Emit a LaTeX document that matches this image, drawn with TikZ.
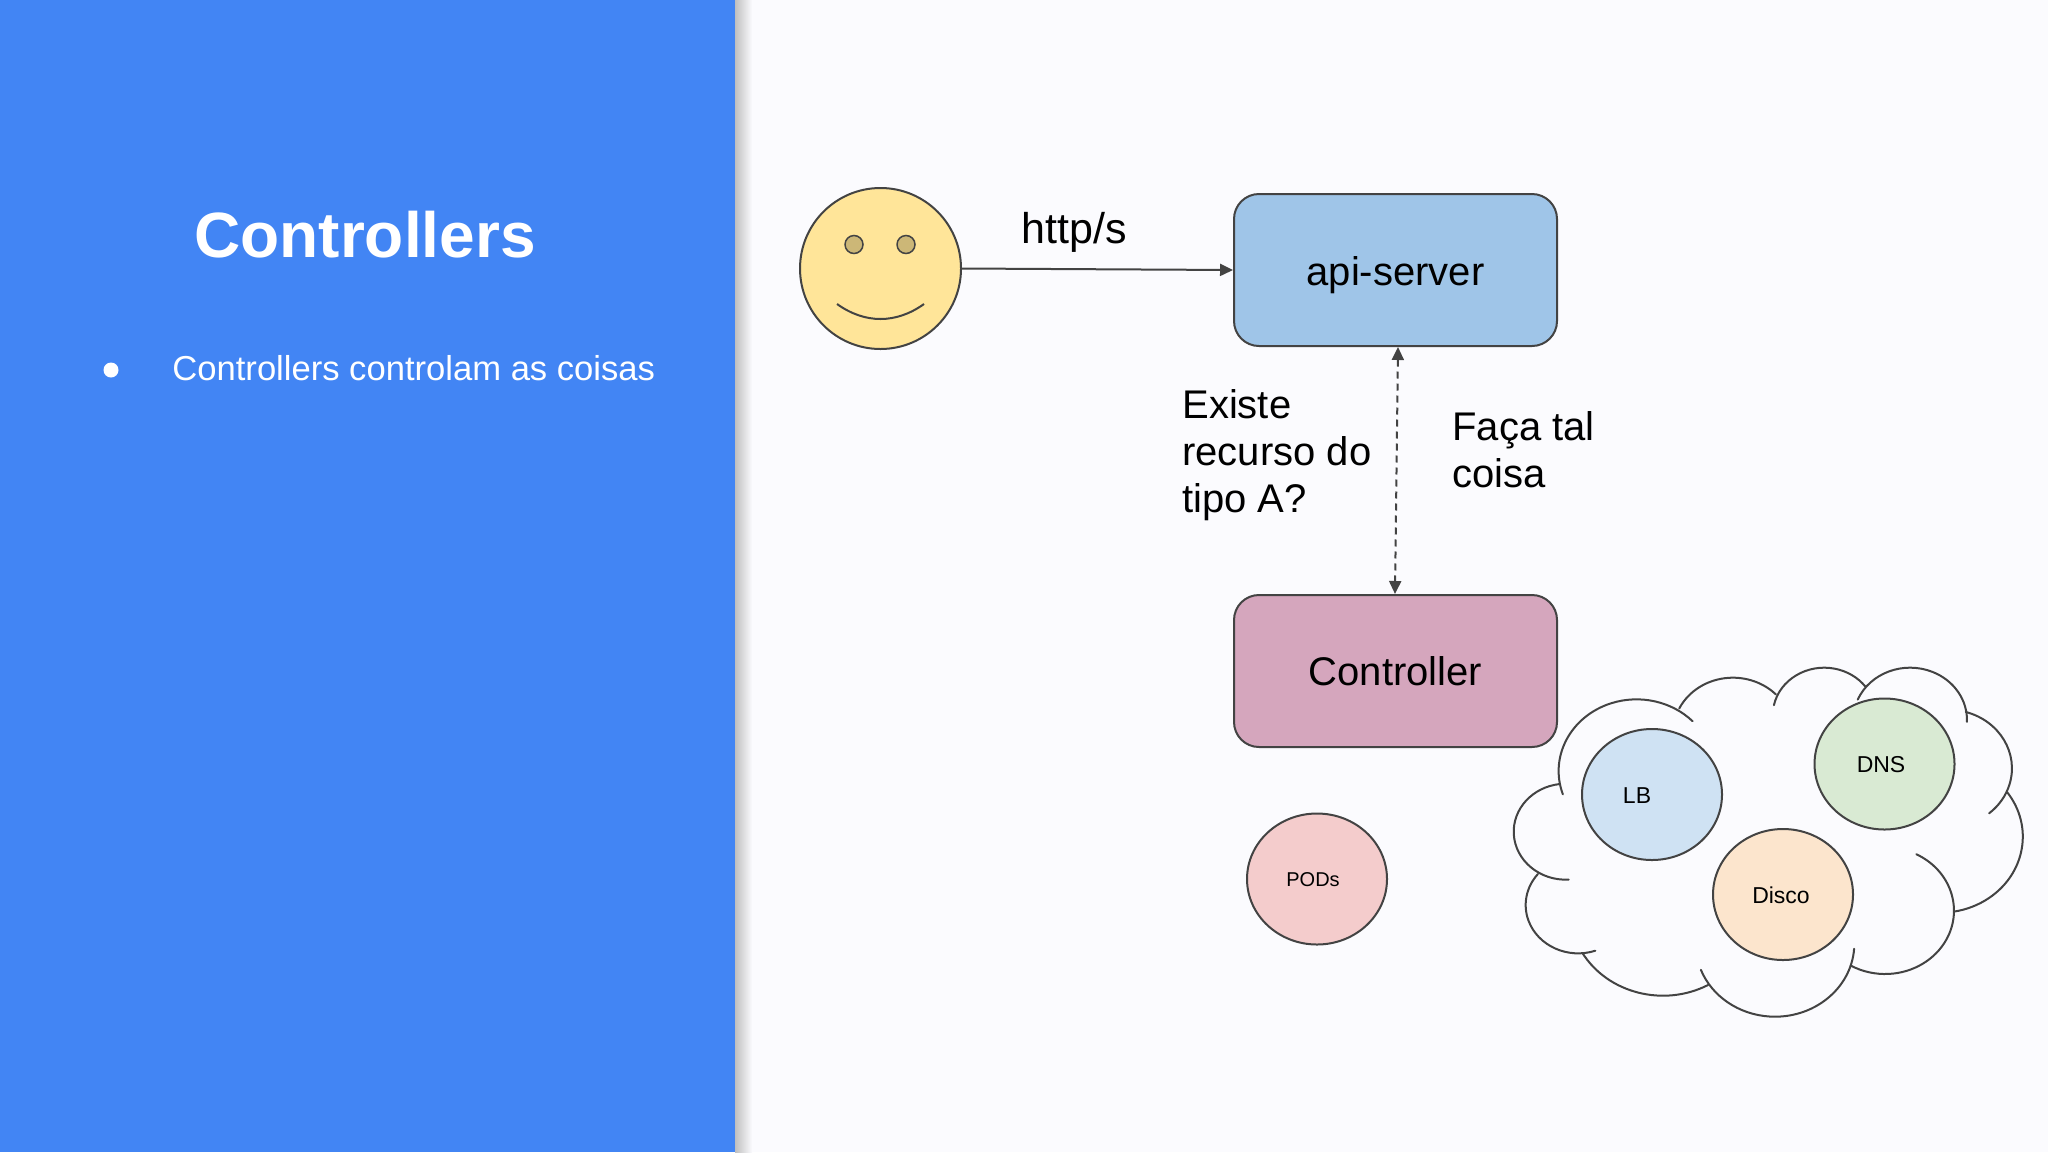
\documentclass[tikz,border=0pt]{standalone}
\usepackage{xcolor}
\usepackage{fontspec}
\setmainfont{Liberation Sans}
\usepackage{tikz}
\usetikzlibrary{arrows.meta}
\usetikzlibrary{shapes.geometric}

\definecolor{slidebg}{HTML}{FBFBFE}
\definecolor{panelblue}{HTML}{4285F4}
\definecolor{linegray}{HTML}{434343}
\definecolor{faceyellow}{HTML}{FFE599}
\definecolor{eyeyellow}{HTML}{CCB777}
\definecolor{apiblue}{HTML}{9FC5E8}
\definecolor{ctrlpink}{HTML}{D5A6BD}
\definecolor{podred}{HTML}{F4CCCC}
\definecolor{lbblue}{HTML}{CFE2F3}
\definecolor{dnsgreen}{HTML}{D9EAD3}
\definecolor{discoorange}{HTML}{FCE5CD}

\tikzset{
  box/.style={draw=linegray, line width=1pt, rounded corners=12.5pt, minimum width=161.5pt, minimum height=76pt, inner sep=0pt, text depth=0pt, font=\fontsize{20}{24}\selectfont},
  blob/.style={draw=linegray, line width=1pt, ellipse, minimum width=70pt, minimum height=65.5pt, inner sep=0pt},
  label/.style={font=\fontsize{20}{23.5}\selectfont, align=left, anchor=west, inner sep=0pt},
  blobtext/.style={font=\fontsize{11.5}{14}\selectfont, inner sep=0pt},
  link/.style={draw=linegray, line width=1pt, -{Triangle[length=6.5pt,width=6pt]}},
  cloudline/.style={draw=linegray, line width=1pt, line cap=round}
}

\begin{document}
\begin{tikzpicture}[x=0.5pt,y=-0.5pt]
\useasboundingbox (0,0) rectangle (2048,1152);
\fill[slidebg] (0,0) rectangle (2048,1152);

% left panel
\shade[left color=black!25, right color=slidebg] (735,0) rectangle (752,1152);
\fill[panelblue] (0,0) rectangle (735,1152);
\node[text=white, font=\bfseries\fontsize{32}{38}\selectfont, inner sep=0pt] (title) at (365,235) {Controllers};
\node[circle, fill=white, minimum size=7.5pt, inner sep=0pt] (bullet) at (111,370) {};
\node[text=white, font=\fontsize{17.3}{22}\selectfont, anchor=west, inner sep=0pt] (item) at (172,368.5) {Controllers controlam as coisas};

% user
\node[circle, draw=linegray, line width=1pt, fill=faceyellow, minimum size=80.5pt, inner sep=0pt] (face) at (880.5,268.5) {};
\node[circle, draw=linegray, line width=0.75pt, fill=eyeyellow, minimum size=9pt, inner sep=0pt] (eyeleft) at (854,244.5) {};
\node[circle, draw=linegray, line width=0.75pt, fill=eyeyellow, minimum size=9pt, inner sep=0pt] (eyeright) at (906,244.5) {};
\draw[linegray, line width=1pt] (837,304) .. controls (865,324) and (896,324) .. (924,304);

% boxes
\node[box, fill=apiblue, text height=15pt] (api) at (1395.5,270) {api-server};
\node[box, fill=ctrlpink] (ctrl) at (1395.5,671) {Controller};

\draw[link] (face.east) -- (api.west);
\draw[draw=linegray, line width=1pt, dash pattern=on 3.5pt off 2.5pt, {Triangle[length=6.5pt,width=6pt]}-{Triangle[length=6.5pt,width=6pt]}] ([xshift=1.25pt]api.south) -- ([xshift=-0.25pt]ctrl.north);

\node[font=\fontsize{21.5}{24}\selectfont, inner sep=0pt] (http) at (1074,232) {http/s};
\node[label] (exists) at (1182,455.5) {Existe\\recurso do\\tipo A?};
\node[label] (order) at (1452,450) {Faça tal\\coisa};

% pods
\node[blob, fill=podred] (pods) at (1317,879) {};
\node[blobtext, font=\fontsize{10}{12}\selectfont] (podstext) at (1313,880) {PODs};

% cloud
\begin{scope}[shift={(1480,640)},x=0.18116pt,y=-0.16667pt]
\draw[cloudline] (432,393) ++(161:215) arc[start angle=161,end angle=316,radius=215];
\draw[cloudline] (698,278) ++(206:165) arc[start angle=206,end angle=316,radius=165];
\draw[cloudline] (950,225) ++(192:142) arc[start angle=192,end angle=323,radius=142];
\draw[cloudline] (1187,240) ++(203:157) arc[start angle=203,end angle=362,radius=157];
\draw[cloudline] (1292,385) ++(-74:176) arc[start angle=-74,end angle=50,radius=176];
\draw[cloudline] (1270,590) ++(-36:228) arc[start angle=-36,end angle=80,radius=228];
\draw[cloudline] (1118,812) ++(-63:190) arc[start angle=-63,end angle=120,radius=190];
\draw[cloudline] (814,911) ++(4:219) arc[start angle=4,end angle=159,radius=219];
\draw[cloudline] (505,810) ++(61:257) arc[start angle=61,end angle=150,radius=257];
\draw[cloudline] (271,795) ++(71:145) arc[start angle=71,end angle=220,radius=145];
\draw[cloudline] (237,575) ++(87:144) arc[start angle=87,end angle=263,radius=144];
\end{scope}

\node[blob, fill=lbblue] (lb) at (1652,794.5) {};
\node[blob, fill=dnsgreen] (dns) at (1884.5,764) {};
\node[blob, fill=discoorange] (disco) at (1783,894.5) {};
\node[blobtext] (lbtext) at (1637,796) {LB};
\node[blobtext] (dnstext) at (1881,765) {DNS};
\node[blobtext] (discotext) at (1781,895) {Disco};
\end{tikzpicture}
\end{document}
